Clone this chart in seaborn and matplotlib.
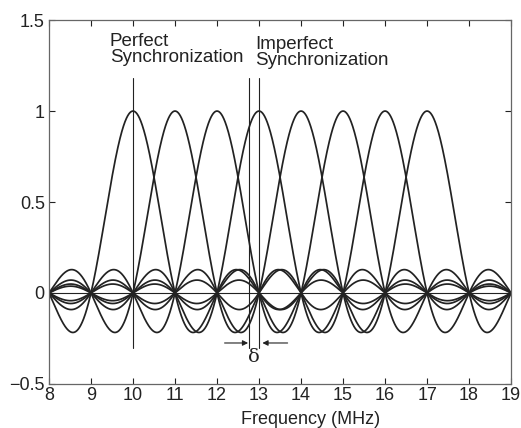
"""
OFDM subcarrier spectra: perfect vs imperfect synchronization.
"""

import numpy as np
import pandas as pd
import seaborn as sns
import matplotlib.pyplot as plt

# subcarrier centre frequencies (MHz)
subcarriers = [10, 11, 12, 13, 14, 15, 16, 17]
freq_min, freq_max = 8, 19
x_ticks = [8, 9, 10, 11, 12, 13, 14, 15, 16, 17, 18, 19]
y_ticks = [-0.5, 0, 0.5, 1, 1.5]
y_tick_labels = ["\u22120.5", "0", "0.5", "1", "1.5"]

# sampling instants marked on the chart
perfect_sample = 10.0
imperfect_sample = 12.76
ideal_sample = 13.0
marker_top = 1.18
marker_bottom = -0.30

INK = "#222222"

sns.set_style("ticks")
plt.rcParams["font.family"] = ["Liberation Sans", "DejaVu Sans"]
plt.rcParams["font.size"] = 12

freq = np.linspace(freq_min, freq_max, 2201)
frames = []
for fc in subcarriers:
    frames.append(pd.DataFrame({
        "freq": freq,
        "amp": np.sinc(freq - fc),
        "carrier": str(fc),
    }))
spectra = pd.concat(frames, ignore_index=True)

fig = plt.figure(figsize=(5.21, 4.28), dpi=100)
ax = fig.add_axes([0.094, 0.103, 0.887, 0.850])

sns.lineplot(data=spectra, x="freq", y="amp", hue="carrier",
             palette=[INK] * len(subcarriers), linewidth=1.25,
             legend=False, ax=ax, estimator=None, sort=False)

ax.axhline(0, color=INK, linewidth=0.8)
for xs in [perfect_sample, imperfect_sample, ideal_sample]:
    ax.plot([xs, xs], [marker_bottom, marker_top], color=INK, linewidth=0.8)

ax.text(9.45, 1.43, "Perfect\nSynchronization", ha="left", va="top",
        linespacing=0.9, fontsize=13.5, color=INK)
ax.text(12.9, 1.41, "Imperfect\nSynchronization", ha="left", va="top",
        linespacing=0.9, fontsize=13.5, color=INK)

arrow = dict(arrowstyle="-|>", color=INK, linewidth=0.8,
             mutation_scale=8, shrinkA=0, shrinkB=0)
ax.annotate("", xy=(imperfect_sample - 0.02, -0.275), xytext=(12.18, -0.275),
            arrowprops=arrow)
ax.annotate("", xy=(ideal_sample + 0.08, -0.275), xytext=(13.68, -0.275),
            arrowprops=arrow)
ax.text(12.88, -0.35, "\u03b4", ha="center", va="center",
        fontsize=14, family=["DejaVu Serif"], color=INK)

ax.set_xlim(freq_min, freq_max)
ax.set_ylim(-0.5, 1.5)
ax.set_xticks(x_ticks)
ax.set_yticks(y_ticks)
ax.set_yticklabels(y_tick_labels)
ax.set_xlabel("Frequency (MHz)", fontsize=13, color=INK, labelpad=4)
ax.xaxis.set_label_coords(0.567, -0.075)
ax.set_ylabel("")
ax.tick_params(direction="in", top=True, right=True, length=4,
               width=0.8, labelsize=13, colors=INK, pad=3)
ax.tick_params(axis="x", pad=2)
for side in ["top", "right", "left", "bottom"]:
    ax.spines[side].set_visible(True)
    ax.spines[side].set_color("#666666")
    ax.spines[side].set_linewidth(0.9)

fig.savefig("out.png", dpi=100)
plt.close(fig)
